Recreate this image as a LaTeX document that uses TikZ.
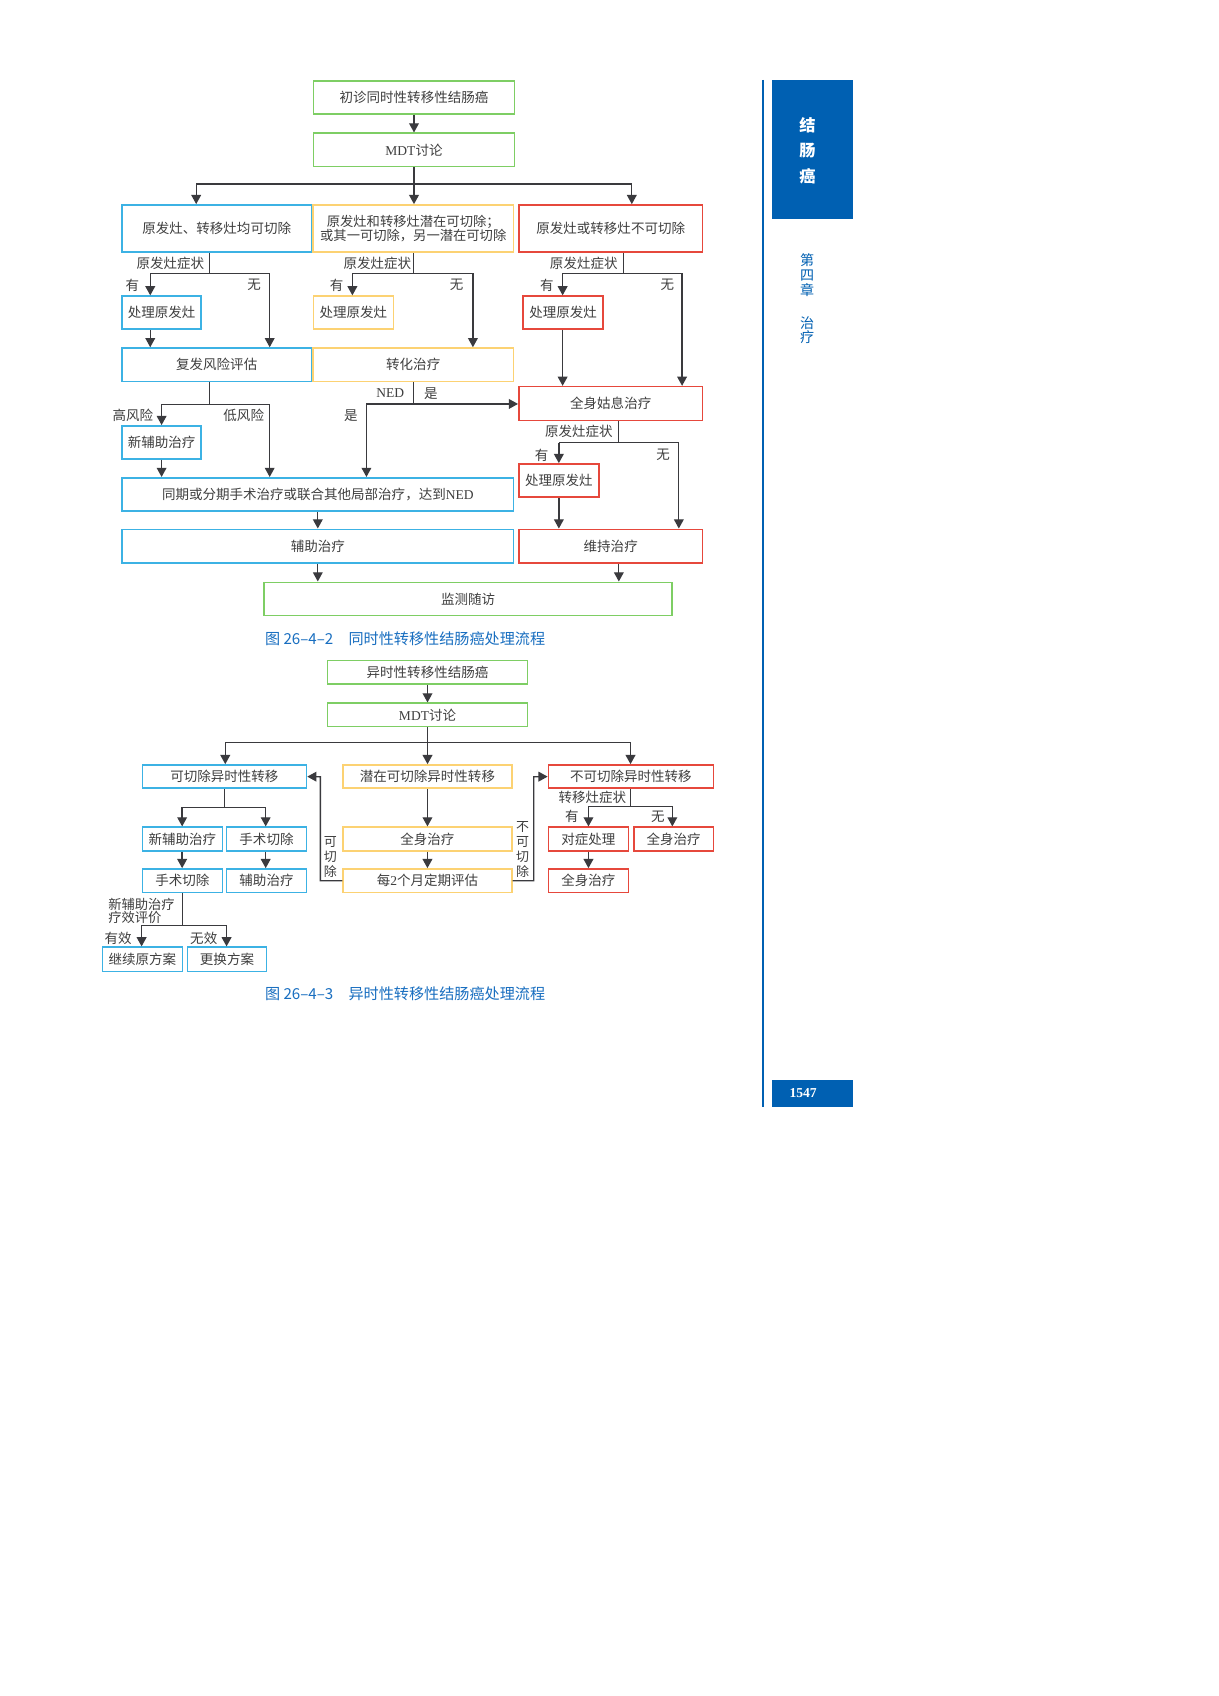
\documentclass[tikz,border=0pt]{standalone}
\usepackage{fontspec}
\setmainfont{Liberation Serif}
\newfontfamily\cjk{Noto Sans CJK SC}
\usetikzlibrary{arrows.meta}
\definecolor{cgreen}{RGB}{126,206,100}
\definecolor{cblue}{RGB}{60,178,228}
\definecolor{cyellow}{RGB}{252,210,115}
\definecolor{cred}{RGB}{230,72,60}
\definecolor{lin}{RGB}{58,58,62}
\definecolor{txt}{RGB}{62,62,62}
\definecolor{dblue}{RGB}{0,96,178}
\definecolor{capblue}{RGB}{24,110,192}
\newcommand\bx[7]{\node[#1, minimum width={(#5)-(#3)}, minimum height={(#6)-(#4)}] (#2) at ({((#3)+(#5))/2},{((#4)+(#6))/2}) {#7};}
\tikzset{
  box/.style={draw, line width=1.5pt, inner sep=0pt, font=\cjk\fontsize{12.5}{14}\selectfont, text=txt, align=center},
  gbox/.style={box, draw=cgreen},
  bbox/.style={box, draw=cblue},
  ybox/.style={box, draw=cyellow},
  rbox/.style={box, draw=cred},
  con/.style={draw=lin, line width=1.2pt},
  arr/.style={con, -{Triangle[length=8.5pt,width=9pt]}},
  lab/.style={font=\cjk\fontsize{12.5}{14}\selectfont, text=txt, inner sep=0pt},
  captxt/.style={font=\cjk\fontsize{14}{16}\selectfont, text=capblue, inner sep=0pt, anchor=west},
}
\begin{document}
\begin{tikzpicture}[x=1pt,y=-1pt]
\useasboundingbox[fill=white] (0,0) rectangle (1127,1569);

% ---------------- Figure 26-4-2 ----------------
\bx{gbox}{t1}{290}{75}{476}{105.5}{初诊同时性转移性结肠癌}
\bx{gbox}{t2}{290}{123.3}{476}{154.2}{{\rmfamily MDT}讨论}
\bx{bbox}{b1}{113}{189.6}{288}{233.4}{原发灶、转移灶均可切除}
\bx{ybox}{y1}{289.6}{189.6}{475}{233.4}{\fontsize{12.3}{14}\selectfont 原发灶和转移灶潜在可切除；\\[-1pt]\fontsize{12.3}{14}\selectfont 或其一可切除，另一潜在可切除}
\bx{rbox}{r1}{480}{189.6}{650}{233.4}{原发灶或转移灶不可切除}
\bx{bbox}{b2}{113}{274}{186}{304.5}{处理原发灶}
\bx{ybox}{y2}{290}{274}{364}{304.5}{处理原发灶}
\bx{rbox}{r2}{484}{274}{558}{304.5}{处理原发灶}
\bx{bbox}{b3}{113}{322}{288}{353}{复发风险评估}
\bx{ybox}{y3}{289.6}{322}{475}{353}{转化治疗}
\bx{rbox}{r3}{480}{357.7}{650}{389}{全身姑息治疗}
\bx{bbox}{b4}{113}{394}{186}{424.5}{新辅助治疗}
\bx{bbox}{b5}{113}{442}{475}{472.7}{同期或分期手术治疗或联合其他局部治疗，达到{\rmfamily NED}}
\bx{rbox}{r4}{480}{429.2}{554}{460}{处理原发灶}
\bx{bbox}{b6}{113}{489.7}{475}{521}{辅助治疗}
\bx{rbox}{r5}{480}{489.7}{650}{521}{维持治疗}
\bx{gbox}{g3}{244.5}{538.7}{621.5}{569.5}{监测随访}

\draw[arr] (t1.south) -- (t2.north);
\coordinate (j0) at (383,170.2);
\coordinate (jL) at (181.5,170.2);
\coordinate (jR) at (584.5,170.2);
\draw[con] (t2.south) -- (j0);
\draw[con] (jL) -- (jR);
\draw[arr] (jL) -- (b1.north -| jL);
\draw[arr] (j0) -- (y1.north -| j0);
\draw[arr] (jR) -- (r1.north -| jR);

% blue column
\coordinate (bA) at (194,253);
\coordinate (bL) at (139,253);
\coordinate (bR) at (249.5,253);
\draw[con] (b1.south -| bA) -- (bA);
\draw[con] (bL) -- (bR);
\draw[arr] (bL) -- (b2.north -| bL);
\draw[arr] (bR) -- (b3.north -| bR);
\draw[arr] (b2.south -| bL) -- (b3.north -| bL);
\node[lab, anchor=east] (lb1) at (189,243.5) {原发灶症状};
\node[lab] (lb2) at (122.5,263.6) {有};
\node[lab] (lb3) at (235,263.6) {无};

\coordinate (bB) at (194,374);
\coordinate (bBL) at (149.5,374);
\coordinate (bBR) at (249.5,374);
\draw[con] (b3.south -| bB) -- (bB);
\draw[con] (bBL) -- (bBR);
\draw[arr] (bBL) -- (b4.north -| bBL);
\draw[arr] (bBR) -- (b5.north -| bBR);
\draw[arr] (b4.south -| bBL) -- (b5.north -| bBL);
\node[lab] (lb4) at (123,384.6) {高风险};
\node[lab] (lb5) at (225.5,384.6) {低风险};

% yellow column
\coordinate (yA) at (382.5,253);
\coordinate (yL) at (326,253);
\coordinate (yR) at (437.5,253);
\draw[con] (y1.south -| yA) -- (yA);
\draw[con] (yL) -- (yR);
\draw[arr] (yL) -- (y2.north -| yL);
\draw[arr] (yR) -- (y3.north -| yR);
\node[lab, anchor=east] (ly1) at (380.5,243.5) {原发灶症状};
\node[lab] (ly2) at (311.5,263.6) {有};
\node[lab] (ly3) at (422.5,263.6) {无};

\coordinate (nA) at (382.5,373.7);
\coordinate (nL) at (339,373.7);
\draw[con] (y3.south -| nA) -- (nA);
\draw[arr] (nL) -- (r3.west |- nL);
\draw[arr] (nL) -- (b5.north -| nL);
\node[lab, font=\rmfamily\fontsize{12.5}{14}\selectfont] (ln1) at (361,363.8) {NED};
\node[lab] (ln2) at (398.5,363.8) {是};
\node[lab] (ln3) at (324.5,384.6) {是};

% red column
\coordinate (rA) at (576.5,253);
\coordinate (rL) at (520.5,253);
\coordinate (rR) at (631,253);
\draw[con] (r1.south -| rA) -- (rA);
\draw[con] (rL) -- (rR);
\draw[arr] (rL) -- (r2.north -| rL);
\draw[arr] (rR) -- (r3.north -| rR);
\draw[arr] (r2.south -| rL) -- (r3.north -| rL);
\node[lab, anchor=east] (lr1) at (571.5,243.5) {原发灶症状};
\node[lab] (lr2) at (506,263.6) {有};
\node[lab] (lr3) at (617.5,263.6) {无};

\coordinate (rB) at (572.5,409.5);
\coordinate (rBL) at (517,409.5);
\coordinate (rBR) at (628,409.5);
\draw[con] (r3.south -| rB) -- (rB);
\draw[con] (rBL) -- (rBR);
\draw[arr] (rBL) -- (r4.north -| rBL);
\draw[arr] (rBR) -- (r5.north -| rBR);
\draw[arr] (r4.south -| rBL) -- (r5.north -| rBL);
\node[lab, anchor=east] (lr4) at (567,399.3) {原发灶症状};
\node[lab] (lr5) at (501,420.9) {有};
\node[lab] (lr6) at (613.5,420.9) {无};

\draw[arr] (b5.south) -- (b6.north);
\draw[arr] (b6.south) -- (g3.north -| b6.south);
\draw[arr] (r5.south -| rB) -- (g3.north -| rB);

\node[captxt] (c1) at (245,590.5) {图 26–4–2\hspace{1em}同时性转移性结肠癌处理流程};

% ---------------- Figure 26-4-3 ----------------
\bx{gbox}{f1}{303}{611.2}{488}{632.8}{异时性转移性结肠癌}
\bx{gbox}{f2}{303}{650.6}{488}{672.2}{{\rmfamily MDT}讨论}
\bx{bbox}{p1}{131.7}{707.7}{283.5}{729.2}{可切除异时性转移}
\bx{ybox}{p2}{317.4}{707.7}{473.5}{729.2}{潜在可切除异时性转移}
\bx{rbox}{p3}{507.4}{707.7}{660}{729.2}{不可切除异时性转移}
\bx{bbox}{q1}{131.7}{765.3}{205.7}{787}{新辅助治疗}
\bx{bbox}{q2}{209.6}{765.3}{283.5}{787}{手术切除}
\bx{bbox}{q3}{131.7}{803.9}{205.7}{825.5}{手术切除}
\bx{bbox}{q4}{209.6}{803.9}{283.5}{825.5}{辅助治疗}
\bx{bbox}{s1}{94.7}{876.3}{168.7}{898.9}{继续原方案}
\bx{bbox}{s2}{173.4}{876.3}{246.6}{898.9}{更换方案}
\bx{ybox}{u1}{317.4}{765.3}{473.5}{787}{全身治疗}
\bx{ybox}{u2}{317.4}{803.9}{473.5}{825.5}{每{\rmfamily 2}个月定期评估}
\bx{rbox}{w1}{507.4}{765.3}{581.4}{787}{对症处理}
\bx{rbox}{w2}{586.4}{765.3}{660}{787}{全身治疗}
\bx{rbox}{w3}{507.4}{803.9}{581.4}{825.5}{全身治疗}

\draw[arr] (f1.south) -- (f2.north);
\coordinate (k0) at (395.5,687);
\coordinate (kL) at (208.4,687);
\coordinate (kR) at (583.3,687);
\draw[con] (f2.south) -- (k0);
\draw[con] (kL) -- (kR);
\draw[arr] (kL) -- (p1.north -| kL);
\draw[arr] (k0) -- (p2.north -| k0);
\draw[arr] (kR) -- (p3.north -| kR);

% blue
\coordinate (qA) at (207.6,747);
\coordinate (qL) at (168.5,747);
\coordinate (qR) at (245.8,747);
\draw[con] (p1.south -| qA) -- (qA);
\draw[con] (qL) -- (qR);
\draw[arr] (qL) -- (q1.north -| qL);
\draw[arr] (qR) -- (q2.north -| qR);
\draw[arr] (q1.south -| qL) -- (q3.north -| qL);
\draw[arr] (q2.south -| qR) -- (q4.north -| qR);
\coordinate (sA) at (168.7,856);
\coordinate (sL) at (131,856);
\coordinate (sR) at (209.6,856);
\draw[con] (q3.south -| sA) -- (sA);
\draw[con] (sL) -- (sR);
\draw[arr] (sL) -- (s1.north -| sL);
\draw[arr] (sR) -- (s2.north -| sR);
\node[lab, align=left, anchor=west, font=\cjk\fontsize{12.3}{12.3}\selectfont] (lq1) at (100,842.5) {新辅助治疗\\疗效评价};
\node[lab] (lq2) at (109.3,868) {有效};
\node[lab] (lq3) at (188.5,868) {无效};

% yellow
\draw[arr] (p2.south) -- (u1.north);
\draw[arr] (u1.south) -- (u2.north);
\coordinate (vL) at (296.4,718.5);
\coordinate (vR) at (493.8,718.5);
\draw[arr] (u2.west) -| (vL) -- (p1.east);
\draw[arr] (u2.east) -| (vR) -- (p3.west);
\node[lab, align=center, font=\cjk\fontsize{12}{13.8}\selectfont] (lv1) at (305.7,792.5) {可\\切\\除};
\node[lab, align=center, font=\cjk\fontsize{12}{13.9}\selectfont] (lv2) at (483.4,785.5) {不\\可\\切\\除};

% red
\coordinate (tA) at (583.3,746);
\coordinate (tL) at (544.4,746);
\coordinate (tR) at (622,746);
\draw[con] (p3.south -| tA) -- (tA);
\draw[con] (tL) -- (tR);
\draw[arr] (tL) -- (w1.north -| tL);
\draw[arr] (tR) -- (w2.north -| tR);
\draw[arr] (w1.south) -- (w3.north);
\node[lab, anchor=east] (lt1) at (579.5,737.5) {转移灶症状};
\node[lab] (lt2) at (529,755.5) {有};
\node[lab] (lt3) at (608.6,755.5) {无};

\node[captxt] (c2) at (245,918.9) {图 26–4–3\hspace{1em}异时性转移性结肠癌处理流程};

% ---------------- side bar ----------------
\draw[dblue, line width=1.3pt] (706,74) -- (706,1024);
\node[fill=dblue, inner sep=0pt, minimum width=74.3, minimum height=128.6] (sb1) at (751.6,138.3) {};
\node[inner sep=0pt, align=center, text=white, font=\cjk\bfseries\fontsize{15}{23.6}\selectfont] (sbt) at (747,139.3) {结\\肠\\癌};
\node[inner sep=0pt, align=center, text=dblue, font=\cjk\fontsize{13}{14}\selectfont] (ch1) at (746.8,254.5) {第\\四\\章};
\node[inner sep=0pt, align=center, text=dblue, font=\cjk\fontsize{13}{13}\selectfont] (ch2) at (746.8,305.3) {治\\疗};
\node[fill=dblue, inner sep=0pt, minimum width=74.3, minimum height=24.8] (sb2) at (751.6,1011.4) {};
\node[inner sep=0pt, text=white, font=\rmfamily\bfseries\fontsize{12.6}{14}\selectfont] (pg) at (743,1011.4) {1547};
\end{tikzpicture}
\end{document}
